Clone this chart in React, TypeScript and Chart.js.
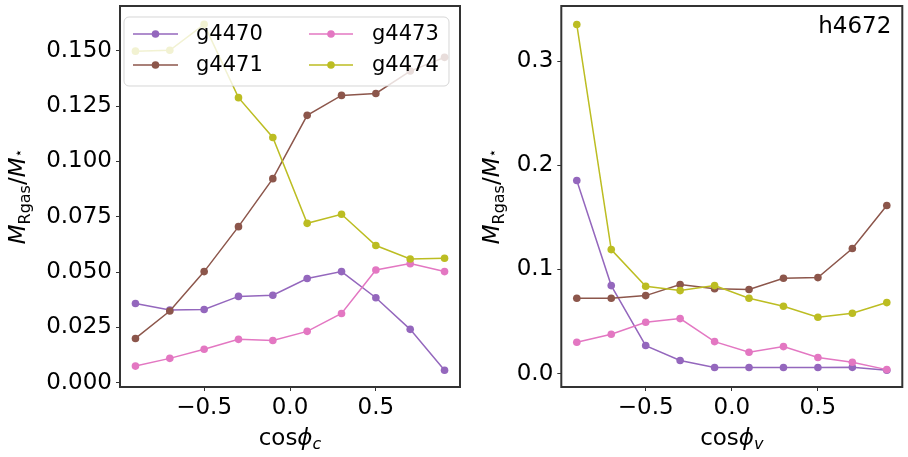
import React, { useEffect, useRef } from 'react';
import { Chart, registerables } from 'chart.js';
Chart.register(...registerables);

const xValues = [-0.9, -0.7, -0.5, -0.3, -0.1, 0.1, 0.3, 0.5, 0.7, 0.9];
const seriesNames = ['g4470', 'g4471', 'g4473', 'g4474'];
const seriesColors = ['#9467bd', '#8c564b', '#e377c2', '#bcbd22'];

const leftG4470 = [0.0358, 0.0328, 0.0331, 0.039, 0.0395, 0.0471, 0.0502, 0.0384, 0.0241, 0.0056];
const leftG4471 = [0.02, 0.0324, 0.0502, 0.0705, 0.0922, 0.1208, 0.1298, 0.1307, 0.1408, 0.147];
const leftG4473 = [0.0075, 0.011, 0.0151, 0.0196, 0.0191, 0.0232, 0.0313, 0.0509, 0.0538, 0.0502];
const leftG4474 = [0.1498, 0.1502, 0.1619, 0.1288, 0.1108, 0.072, 0.0761, 0.062, 0.0559, 0.0562];

const rightG4470 = [0.1854, 0.0845, 0.0269, 0.0125, 0.0058, 0.0058, 0.0058, 0.0058, 0.006, 0.0032];
const rightG4471 = [0.0724, 0.0724, 0.0749, 0.0855, 0.0816, 0.0807, 0.0916, 0.0922, 0.1201, 0.1614];
const rightG4473 = [0.0301, 0.0378, 0.0493, 0.0528, 0.0307, 0.0205, 0.0259, 0.0154, 0.0109, 0.0038];
const rightG4474 = [0.3353, 0.1191, 0.0839, 0.0797, 0.0845, 0.0724, 0.0647, 0.0541, 0.058, 0.0682];

const xTickValues = [-0.5, 0, 0.5];
const xTickLabels = ['\u22120.5', '0.0', '0.5'];
const leftYTickValues = [0, 0.025, 0.05, 0.075, 0.1, 0.125, 0.15];
const leftYTickLabels = ['0.000', '0.025', '0.050', '0.075', '0.100', '0.125', '0.150'];
const rightYTickValues = [0, 0.1, 0.2, 0.3];
const rightYTickLabels = ['0.0', '0.1', '0.2', '0.3'];

const FONT = '"DejaVu Sans"';
const TICK_FONT_SIZE = 23;
const SPINE = '#333333';

type Run = { t: string; font: string; dy: number };

function drawRuns(ctx: CanvasRenderingContext2D, runs: Run[], cx: number, by: number) {
  const widths = runs.map((r) => {
    ctx.font = r.font;
    return ctx.measureText(r.t).width;
  });
  const total = widths.reduce((a, b) => a + b, 0);
  let x = cx - total / 2;
  ctx.textAlign = 'left';
  ctx.textBaseline = 'alphabetic';
  ctx.fillStyle = '#000';
  runs.forEach((r, i) => {
    ctx.font = r.font;
    ctx.fillText(r.t, x, by + r.dy);
    x += widths[i];
  });
}

type Panel = {
  canvasLeft: number;
  canvasWidth: number;
  yAxisWidth: number;
  padRight: number;
  yMin: number;
  yMax: number;
  yTicks: number[];
  yLabels: string[];
  series: number[][];
  xSub: string;
  yLabelX: number;
  legend: boolean;
  note?: string;
};

const panels: Panel[] = [
  {
    canvasLeft: 0,
    canvasWidth: 470,
    yAxisWidth: 120,
    padRight: 10,
    yMin: -0.00194,
    yMax: 0.1702,
    yTicks: leftYTickValues,
    yLabels: leftYTickLabels,
    series: [leftG4470, leftG4471, leftG4473, leftG4474],
    xSub: 'c',
    yLabelX: 25,
    legend: true,
  },
  {
    canvasLeft: 460,
    canvasWidth: 448,
    yAxisWidth: 101.3,
    padRight: 5.7,
    yMin: -0.0129,
    yMax: 0.3531,
    yTicks: rightYTickValues,
    yLabels: rightYTickLabels,
    series: [rightG4470, rightG4471, rightG4473, rightG4474],
    xSub: 'v',
    yLabelX: 39,
    legend: false,
    note: 'h4672',
  },
];

function makePlugin(panel: Panel) {
  return {
    id: 'decor',
    afterDatasetsDraw(chart: any) {
      const ctx: CanvasRenderingContext2D = chart.ctx;
      const a = chart.chartArea;
      ctx.save();
      // frame
      ctx.strokeStyle = SPINE;
      ctx.lineWidth = 2;
      ctx.strokeRect(a.left, a.top, a.right - a.left, a.bottom - a.top);

      // x label
      const cx = (a.left + a.right) / 2;
      drawRuns(
        ctx,
        [
          { t: 'cos', font: `${TICK_FONT_SIZE}px ${FONT}`, dy: 0 },
          { t: '\u03d5', font: `italic ${TICK_FONT_SIZE}px ${FONT}`, dy: 0 },
          { t: panel.xSub, font: `italic 16px ${FONT}`, dy: 4 },
        ],
        cx,
        445
      );

      // y label
      const cy = (a.top + a.bottom) / 2;
      ctx.save();
      ctx.translate(panel.yLabelX, cy);
      ctx.rotate(-Math.PI / 2);
      drawRuns(
        ctx,
        [
          { t: 'M', font: `italic ${TICK_FONT_SIZE}px ${FONT}`, dy: 0 },
          { t: 'Rgas', font: `16px ${FONT}`, dy: 5 },
          { t: '/', font: `${TICK_FONT_SIZE}px ${FONT}`, dy: 0 },
          { t: 'M', font: `italic ${TICK_FONT_SIZE}px ${FONT}`, dy: 0 },
          { t: '\u22c6', font: `14px ${FONT}`, dy: -2 },
        ],
        0,
        0
      );
      ctx.restore();

      if (panel.note) {
        ctx.font = `${TICK_FONT_SIZE}px ${FONT}`;
        ctx.fillStyle = '#000';
        ctx.textAlign = 'right';
        ctx.textBaseline = 'alphabetic';
        ctx.fillText(panel.note, a.right - 11, 33);
      }

      if (panel.legend) {
        const lx = 124, ly = 17, lw = 325, lh = 69, r = 5;
        ctx.beginPath();
        ctx.moveTo(lx + r, ly);
        ctx.arcTo(lx + lw, ly, lx + lw, ly + lh, r);
        ctx.arcTo(lx + lw, ly + lh, lx, ly + lh, r);
        ctx.arcTo(lx, ly + lh, lx, ly, r);
        ctx.arcTo(lx, ly, lx + lw, ly, r);
        ctx.closePath();
        ctx.fillStyle = 'rgba(255,255,255,0.8)';
        ctx.fill();
        ctx.strokeStyle = 'rgba(204,204,204,0.8)';
        ctx.lineWidth = 1;
        ctx.stroke();
        const cols = [
          { x1: 133, x2: 178, tx: 196 },
          { x1: 309, x2: 353, tx: 372 },
        ];
        const rows = [34, 65];
        seriesNames.forEach((name, i) => {
          const col = cols[Math.floor(i / 2)];
          const y = rows[i % 2];
          ctx.strokeStyle = seriesColors[i];
          ctx.lineWidth = 1.5;
          ctx.beginPath();
          ctx.moveTo(col.x1, y);
          ctx.lineTo(col.x2, y);
          ctx.stroke();
          ctx.fillStyle = seriesColors[i];
          ctx.beginPath();
          ctx.arc((col.x1 + col.x2) / 2, y, 3.8, 0, Math.PI * 2);
          ctx.fill();
          ctx.fillStyle = '#000';
          ctx.font = `21px ${FONT}`;
          ctx.textAlign = 'left';
          ctx.textBaseline = 'middle';
          ctx.fillText(name, col.tx, y + 1);
        });
      }
      ctx.restore();
    },
  };
}

function makeConfig(panel: Panel): any {
  const tickFont = { family: FONT, size: TICK_FONT_SIZE };
  return {
    type: 'scatter',
    data: {
      datasets: panel.series.map((vals, i) => ({
        label: seriesNames[i],
        data: xValues.map((x, j) => ({ x, y: vals[j] })),
        showLine: true,
        borderColor: seriesColors[i],
        backgroundColor: seriesColors[i],
        borderWidth: 1.5,
        pointRadius: 3.8,
        pointBorderWidth: 0,
        pointHoverRadius: 3.8,
        order: 3 - i,
      })),
    },
    options: {
      responsive: false,
      animation: false,
      events: [],
      layout: { padding: { left: 0, right: panel.padRight, top: 6, bottom: 0 } },
      plugins: { legend: { display: false }, tooltip: { enabled: false } },
      scales: {
        x: {
          type: 'linear',
          min: -0.99,
          max: 0.99,
          afterBuildTicks: (s: any) => {
            s.ticks = xTickValues.map((v) => ({ value: v }));
          },
          afterFit: (s: any) => {
            s.height = 70;
            s.paddingLeft = 0;
            s.paddingRight = 0;
          },
          ticks: {
            callback: (_v: any, i: number) => xTickLabels[i],
            font: tickFont,
            color: '#000',
            padding: 3,
            maxRotation: 0,
            autoSkip: false,
          },
          grid: { drawOnChartArea: false, drawTicks: true, tickLength: 4, color: SPINE, lineWidth: 1 },
          border: { display: false },
        },
        y: {
          type: 'linear',
          min: panel.yMin,
          max: panel.yMax,
          afterBuildTicks: (s: any) => {
            s.ticks = panel.yTicks.map((v) => ({ value: v }));
          },
          afterFit: (s: any) => {
            s.width = panel.yAxisWidth;
            s.paddingTop = 0;
            s.paddingBottom = 0;
          },
          ticks: {
            callback: (_v: any, i: number) => panel.yLabels[i],
            font: tickFont,
            color: '#000',
            padding: 4,
            autoSkip: false,
          },
          grid: { drawOnChartArea: false, drawTicks: true, tickLength: 4, color: SPINE, lineWidth: 1 },
          border: { display: false },
        },
      },
    },
    plugins: [makePlugin(panel)],
  };
}

function PanelChart({ panel }: { panel: Panel }) {
  const ref = useRef<HTMLCanvasElement | null>(null);
  useEffect(() => {
    if (!ref.current) return;
    const chart = new Chart(ref.current, makeConfig(panel));
    return () => chart.destroy();
  }, [panel]);
  return (
    <canvas
      ref={ref}
      width={panel.canvasWidth}
      height={457}
      style={{
        position: 'absolute',
        left: panel.canvasLeft,
        top: 0,
        width: panel.canvasWidth,
        height: 457,
      }}
    />
  );
}

export default function App() {
  return (
    <div
      style={{
        position: 'fixed',
        left: 0,
        top: 0,
        width: 908,
        height: 457,
        background: '#fff',
        overflow: 'hidden',
      }}
    >
      {panels.map((p, i) => (
        <PanelChart key={i} panel={p} />
      ))}
    </div>
  );
}
